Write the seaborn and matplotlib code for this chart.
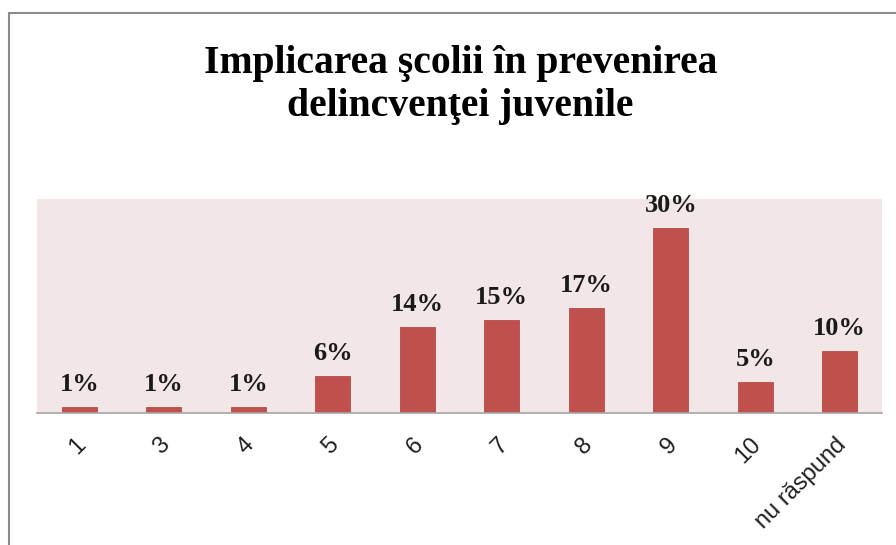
import matplotlib
matplotlib.use("Agg")
import matplotlib.pyplot as plt
import matplotlib.transforms as mtransforms
import seaborn as sns
import pandas as pd
from matplotlib.patches import Rectangle

# Datos
categorii = ['1', '3', '4', '5', '6', '7', '8', '9', '10', 'nu răspund']
procente = [1, 1, 1, 6, 14, 15, 17, 30, 5, 10]
titlu = 'Implicarea şcolii în prevenirea\ndelincvenţei juvenile'

df = pd.DataFrame({'categorie': categorii, 'procent': procente})

sns.set_style('white')
fig = plt.figure(figsize=(8.96, 5.45), dpi=100)
ax = fig.add_axes([37 / 896, 1 - 413 / 545, 845 / 896, 214 / 545])

sns.barplot(data=df, x='categorie', y='procent', color='#C0504D',
            saturation=1, width=0.41, edgecolor='#B84A47', linewidth=0.6, ax=ax)

ax.set_facecolor('#F2E6E6')
ax.set_ylim(0, 34.7)
ax.set_xlim(-0.5, len(categorii) - 0.5)
ax.set_yticks([])
ax.set_xlabel('')
ax.set_ylabel('')
for s in ['top', 'right', 'left']:
    ax.spines[s].set_visible(False)
ax.spines['bottom'].set_color('#A6A6A6')
ax.spines['bottom'].set_linewidth(1.2)
ax.tick_params(axis='x', length=0, pad=15)

for p, v in zip(ax.patches, procente):
    ax.annotate(f'{v}%', (p.get_x() + p.get_width() / 2, p.get_height()),
                xytext=(0, 8), textcoords='offset points', ha='center', va='bottom',
                fontsize=19, fontweight='bold', family='Liberation Serif', color='#1a1a1a')

# mutare mica a etichetelor spre stanga
offset = mtransforms.ScaledTranslation(-5 / 100, 0, fig.dpi_scale_trans)
for lbl in ax.get_xticklabels():
    lbl.set_rotation(45)
    lbl.set_ha('right')
    lbl.set_rotation_mode('anchor')
    lbl.set_family('Liberation Sans')
    lbl.set_fontsize(17)
    lbl.set_color('#1f1f1f')
    lbl.set_transform(lbl.get_transform() + offset)

fig.text(0.514, 1 - 85 / 545, titlu, ha='center', va='center', fontsize=28.5,
         fontweight='bold', family='Liberation Serif', linespacing=1.2, color='black')

# chenarul exterior
fig.patches.append(Rectangle((9 / 896, -0.1), 1.2, 1 - 13 / 545 + 0.1,
                             transform=fig.transFigure, fill=False,
                             edgecolor='#8C8C8C', linewidth=1.5))

fig.savefig('out.png', dpi=100)
